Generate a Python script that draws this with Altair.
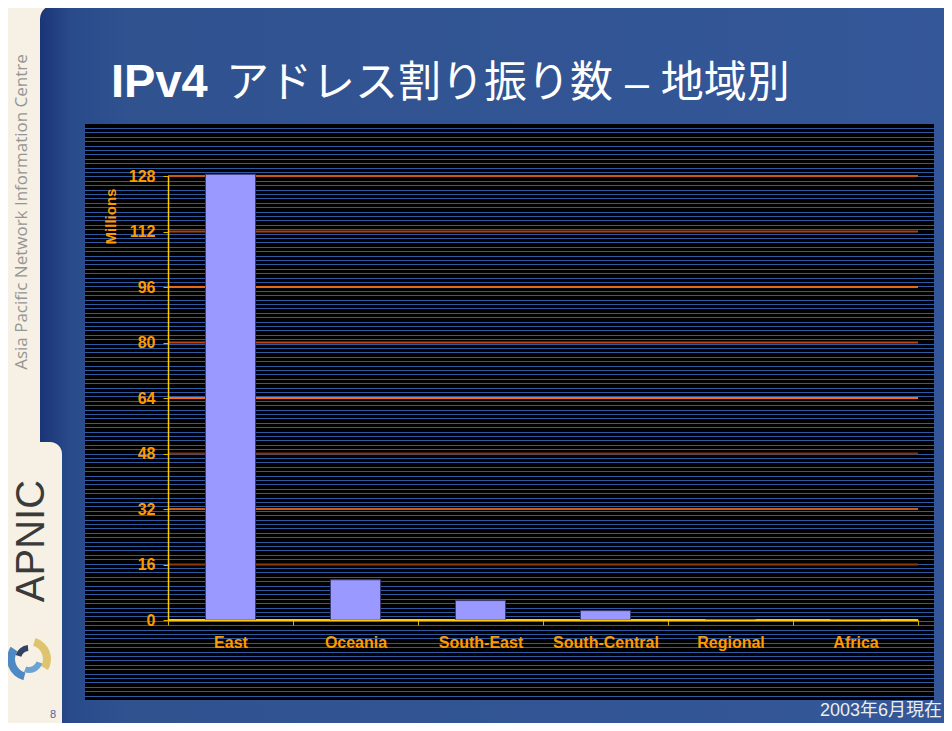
import altair as alt
import pandas as pd

# ---- data ----
REGIONS = ["East", "Oceania", "South-East", "South-Central", "Regional", "Africa"]
ALLOC_MILLIONS = [128.5, 11.6, 5.6, 2.7, 0.0, 0.0]
Y_TICKS = [0, 16, 32, 48, 64, 80, 96, 112, 128]
GRID_COLORS = ["#FFCC00", "#8E3808", "#C85C12", "#85300A", "#FF6A10",
               "#B8460E", "#E86A12", "#A8420C", "#C8581A"]

TITLE_BOLD = "IPv4"
TITLE_REST = "アドレス割り振り数 – 地域別"
SIDEBAR_TEXT = "Asia Pacific Network Information Centre"
LOGO_TEXT = "APNIC"
FOOTER = "2003年6月現在"
PAGE_NO = "8"

bars_df = pd.DataFrame({"region": REGIONS, "value": ALLOC_MILLIONS})
grid_df = pd.DataFrame({"v": Y_TICKS})
one = pd.DataFrame({"a": [0]})

W, H = 750, 444
LAT = "Liberation Sans, Noto Sans CJK JP"

# striped panel fill (black with thin blue lines, pixel aligned)
panel_h = 576.0
period = 4.4
stops = [{"offset": 0, "color": "#000000"}]
k = 0
while True:
    s = round(4 + k * period)
    e = s + 1
    if e >= panel_h:
        break
    stops += [
        {"offset": s / panel_h, "color": "#000000"},
        {"offset": s / panel_h, "color": "#2E5AA2"},
        {"offset": e / panel_h, "color": "#2E5AA2"},
        {"offset": e / panel_h, "color": "#000000"},
    ]
    k += 1
stops.append({"offset": 1, "color": "#000000"})
panel_fill = {"gradient": "linear", "x1": 0, "y1": 0, "x2": 0, "y2": 1, "stops": stops}

slide_fill = {"gradient": "linear", "x1": 0, "y1": 0, "x2": 1, "y2": 0,
              "stops": [{"offset": 0, "color": "#1A3577"},
                        {"offset": 0.035, "color": "#2A4B8B"},
                        {"offset": 0.1, "color": "#30528F"},
                        {"offset": 1, "color": "#345799"}]}

base = alt.Chart(one)

slide = base.mark_rect(fill=slide_fill, cornerRadiusTopLeft=14).encode(
    x=alt.value(-128), x2=alt.value(780), y=alt.value(-171), y2=alt.value(560))
tab = base.mark_rect(fill="#F6F1E4", cornerRadiusTopRight=12).encode(
    x=alt.value(-140), x2=alt.value(-106), y=alt.value(266), y2=alt.value(570))
panel = base.mark_rect(fill=panel_fill).encode(
    x=alt.value(-83), x2=alt.value(766), y=alt.value(-52), y2=alt.value(524))

t1 = base.mark_text(text=TITLE_BOLD, font=LAT, fontSize=47, fontWeight="bold",
                    color="white", align="left", baseline="alphabetic").encode(
    x=alt.value(-57), y=alt.value(-79))
t2 = base.mark_text(text=TITLE_REST, font=LAT, fontSize=43, fontWeight="normal",
                    color="white", align="left", baseline="alphabetic").encode(
    x=alt.value(58), y=alt.value(-79))

side = base.mark_text(text=SIDEBAR_TEXT, font="Open Sans", fontSize=17, angle=270,
                      color="#959595", align="center", baseline="middle").encode(
    x=alt.value(-146), y=alt.value(36))
apnic = base.mark_text(text=LOGO_TEXT, font="Liberation Sans", fontSize=40, angle=270,
                       color="#3A3A3A", align="center", baseline="middle").encode(
    x=alt.value(-136), y=alt.value(365))

lx, ly = -139, 483
logo = [
    base.mark_arc(radius=22, radius2=14, theta=0.3, theta2=2.1, color="#D9BC5A", opacity=0.85),
    base.mark_arc(radius=22, radius2=14, theta=3.4, theta2=5.3, color="#3D7DC0", opacity=0.9),
    base.mark_arc(radius=14, radius2=8, theta=1.9, theta2=3.5, color="#5E9AD0", opacity=0.9),
    base.mark_arc(radius=14, radius2=8, theta=5.0, theta2=6.2, color="#1C2F55", opacity=0.9),
]
logo = [m.encode(x=alt.value(lx), y=alt.value(ly)) for m in logo]

pno = base.mark_text(text=PAGE_NO, font="Liberation Sans", fontSize=11,
                     color="#4A64A0", align="center", baseline="alphabetic").encode(
    x=alt.value(-115), y=alt.value(542))
footer = base.mark_text(text=FOOTER, font=LAT, fontSize=18, color="#EDEDED",
                        align="right", baseline="alphabetic").encode(
    x=alt.value(774), y=alt.value(540))

yscale = alt.Scale(domain=[0, 128], nice=False, zero=True)

grid = alt.Chart(grid_df).mark_rule(strokeWidth=2).encode(
    y=alt.Y("v:Q", scale=yscale),
    color=alt.Color("v:O", scale=alt.Scale(domain=Y_TICKS, range=GRID_COLORS), legend=None),
)

bars = alt.Chart(bars_df).mark_bar(
    width=alt.RelativeBandSize(0.4), color="#9999FF", stroke="#3C3C78", strokeWidth=1
).encode(
    x=alt.X("region:N", sort=REGIONS,
            scale=alt.Scale(paddingInner=0, paddingOuter=0),
            axis=alt.Axis(title=None, labelAngle=0, labelColor="#FF9900",
                          labelFont="Liberation Sans", labelFontWeight="bold",
                          labelFontSize=16, labelPadding=9,
                          domainColor="#FFCC00", domainWidth=1.5,
                          tickColor="#E0B000", tickSize=5, tickBand="extent",
                          grid=False, zindex=1)),
    y=alt.Y("value:Q", scale=yscale,
            axis=alt.Axis(values=Y_TICKS, title="Millions", titleColor="#FF9900",
                          titleFont="Liberation Sans", titleFontWeight="bold",
                          titleFontSize=15, titleAngle=270, titleX=-58, titleY=40,
                          titleAlign="center", titleBaseline="middle",
                          labelColor="#FF9900", labelFont="Liberation Sans",
                          labelFontWeight="bold", labelFontSize=16, labelPadding=8,
                          domainColor="#FFCC00", domainWidth=1.5,
                          tickColor="#E0B000", tickSize=5, grid=False, zindex=1)),
)

chart = alt.layer(
    slide, tab, panel, t1, t2, side, apnic, *logo, pno, footer, grid, bars
).resolve_scale(color="independent").properties(
    width=W, height=H,
    autosize=alt.AutoSizeParams(type="none"),
    padding={"left": 160, "top": 168, "right": 26, "bottom": 103},
    background="#F6F1E4",
).configure_view(stroke=None)

chart.save("out.html", embed_options={"renderer": "svg", "actions": False})
